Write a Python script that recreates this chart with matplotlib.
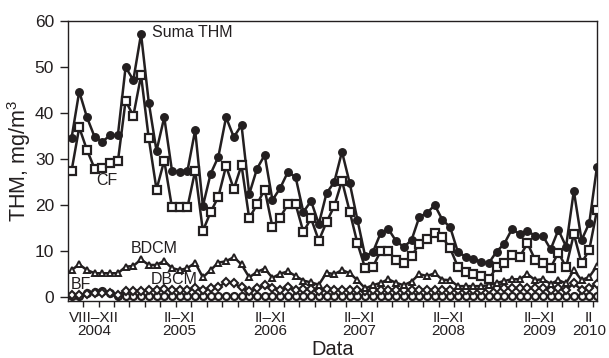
import matplotlib
matplotlib.use('Agg')
import matplotlib.pyplot as plt
from matplotlib.ticker import FixedLocator

plt.rcParams['font.family'] = ['Liberation Sans', 'DejaVu Sans']
plt.rcParams['mathtext.fontset'] = 'custom'
plt.rcParams['mathtext.rm'] = 'Liberation Sans'
plt.rcParams['mathtext.it'] = 'Liberation Sans:italic'

# ---- data (sample index order, Aug 2004 .. 2010) ----
suma_thm = [34.4, 44.6, 39.0, 34.7, 33.7, 35.1, 35.1, 49.9, 47.1, 57.1,
            42.2, 31.7, 39.0, 27.4, 27.1, 27.3, 36.2, 19.7, 26.7, 30.4,
            39.0, 34.7, 37.3, 22.3, 27.8, 30.8, 21.0, 23.6, 27.1, 26.0,
            18.4, 20.8, 15.8, 22.5, 24.9, 31.5, 24.7, 16.7, 8.8, 9.7,
            13.8, 14.7, 12.1, 10.8, 12.3, 17.3, 18.2, 19.9, 16.7, 15.1,
            9.7, 8.7, 8.3, 7.5, 7.3, 9.8, 11.5, 14.7, 13.6, 14.3,
            13.2, 13.2, 10.3, 14.5, 10.9, 23.0, 12.3, 16.0, 28.3]
cf = [27.3, 36.8, 31.9, 27.8, 28.0, 29.1, 29.4, 42.6, 39.3, 48.1,
      34.4, 23.3, 29.6, 19.4, 19.4, 19.4, 27.4, 14.3, 18.4, 21.7,
      28.4, 23.4, 28.6, 17.0, 20.1, 23.3, 15.2, 17.2, 20.1, 20.1,
      14.1, 17.0, 12.2, 16.2, 19.7, 25.2, 18.5, 11.6, 6.2, 6.5,
      9.9, 9.9, 8.0, 7.4, 8.8, 11.5, 12.6, 13.8, 12.9, 10.5,
      6.5, 5.3, 4.9, 4.5, 3.8, 6.4, 7.3, 9.1, 8.7, 11.6,
      8.0, 7.4, 6.3, 9.6, 6.4, 13.6, 7.3, 10.2, 18.8]
bdcm = [5.8, 7.0, 5.8, 5.1, 5.1, 5.1, 5.1, 6.5, 6.7, 8.1,
        6.9, 6.9, 7.8, 6.2, 5.8, 6.2, 7.4, 4.2, 5.8, 7.4,
        7.7, 8.6, 7.0, 4.2, 5.4, 6.1, 4.1, 5.0, 5.5, 4.5,
        3.5, 3.1, 2.6, 5.2, 4.9, 5.8, 5.1, 3.6, 1.8, 2.5,
        3.0, 3.8, 3.0, 2.5, 3.3, 4.9, 4.5, 5.1, 3.7, 3.6,
        2.3, 2.3, 2.3, 2.3, 2.5, 3.0, 3.4, 3.8, 3.8, 4.9,
        3.6, 3.8, 2.8, 3.6, 2.9, 5.8, 3.6, 4.3, 6.7]
dbcm = [0.3, 0.3, 0.6, 0.8, 0.9, 0.7, 0.4, 1.2, 1.3, 1.3,
        1.5, 1.5, 1.7, 1.5, 1.5, 1.5, 1.8, 1.5, 1.8, 2.0,
        3.3, 2.9, 2.0, 1.2, 1.8, 2.5, 1.8, 1.5, 2.0, 1.5,
        1.6, 1.6, 1.2, 1.6, 1.5, 1.5, 1.5, 1.5, 1.2, 1.5,
        1.5, 1.5, 1.5, 1.5, 1.5, 1.5, 1.5, 1.5, 1.5, 1.5,
        1.5, 1.5, 1.5, 1.5, 1.6, 1.8, 1.8, 1.8, 1.8, 1.8,
        1.8, 1.8, 1.5, 1.8, 1.5, 2.9, 1.5, 1.9, 2.7]
bf = [0.2, 0.2, 0.8, 1.1, 1.2, 0.9, 0.2, 0.2, 0.2, 0.2,
      0.2, 0.2, 0.2, 0.2, 0.2, 0.2, 0.2, 0.2, 0.2, 0.2,
      0.2, 0.2, 0.2, 0.2, 0.2, 0.2, 0.2, 0.2, 0.2, 0.2,
      0.2, 0.2, 0.2, 0.2, 0.2, 0.2, 0.2, 0.2, 0.2, 0.2,
      0.2, 0.2, 0.2, 0.2, 0.2, 0.2, 0.2, 0.2, 0.2, 0.2,
      0.2, 0.2, 0.2, 0.2, 0.2, 0.2, 0.2, 0.2, 0.2, 0.2,
      0.2, 0.2, 0.2, 0.2, 0.2, 0.2, 0.2, 0.2, 0.2]

period_labels = ['VIII–XII\n2004', 'II–XI\n2005', 'II–XI\n2006', 'II–XI\n2007',
                 'II–XI\n2008', 'II–XI\n2009', 'II\n2010']
period_pos = [2.9, 14.0, 25.7, 37.2, 48.8, 60.5, 67.0]
y_ticks = [0, 10, 20, 30, 40, 50, 60]

ink = '#231f20'
x = list(range(len(suma_thm)))

fig = plt.figure(figsize=(6.09, 3.58), dpi=100)
ax = fig.add_axes([0.1117, 0.1584, 0.8686, 0.7838])

lw = 1.8
ax.plot(x, bf, color=ink, lw=lw, marker='o', ms=5, mfc='white', mec=ink, mew=1.6, zorder=2)
ax.plot(x, dbcm, color=ink, lw=lw, marker='D', ms=4.3, mfc='white', mec=ink, mew=1.5, zorder=3)
ax.plot(x, bdcm, color=ink, lw=lw, marker='^', ms=5, mfc='white', mec=ink, mew=1.4, zorder=4)
ax.plot(x, suma_thm, color=ink, lw=lw, marker='o', ms=5.4, mfc=ink, mec=ink, zorder=5)
ax.plot(x, cf, color=ink, lw=lw, marker='s', ms=5.4, mfc='white', mec=ink, mew=1.6, zorder=6)

ax.set_xlim(-0.45, 68.0)
ax.set_ylim(-1.0, 60)

ax.set_yticks(y_ticks)
ax.tick_params(axis='y', direction='out', length=5.5, width=1.0, pad=4.5,
               labelsize=12.5, colors=ink)
ax.set_xticks(period_pos)
ax.set_xticklabels(period_labels, linespacing=0.95)
ax.xaxis.set_minor_locator(FixedLocator([i + 0.5 for i in range(1, 68, 2)]))
ax.tick_params(axis='x', which='major', length=0, pad=7, labelsize=11, colors=ink)
ax.tick_params(axis='x', which='minor', direction='out', length=4, width=1.0, colors=ink)

for s in ax.spines.values():
    s.set_color(ink)
    s.set_linewidth(1.0)

ax.set_ylabel('THM, mg/m$^3$', fontsize=15.5, color=ink, labelpad=1.5)
ax.set_xlabel('Data', fontsize=14.5, color=ink)
ax.xaxis.label.set_va('baseline')
ax.xaxis.set_label_coords(0.5, (301.3 - 355.5) / 280.6)

ax.text(10.36, 57.4, 'Suma THM', fontsize=11.5, color=ink, ha='left', va='center')
ax.text(4.57, 25.2, 'CF', fontsize=11.5, color=ink, ha='center', va='center')
ax.text(10.7, 10.4, 'BDCM', fontsize=11.5, color=ink, ha='center', va='center')
ax.text(13.25, 3.7, 'DBCM', fontsize=11.5, color=ink, ha='center', va='center')
ax.text(1.2, 2.6, 'BF', fontsize=11.5, color=ink, ha='center', va='center')

fig.savefig('out.png', dpi=100)
